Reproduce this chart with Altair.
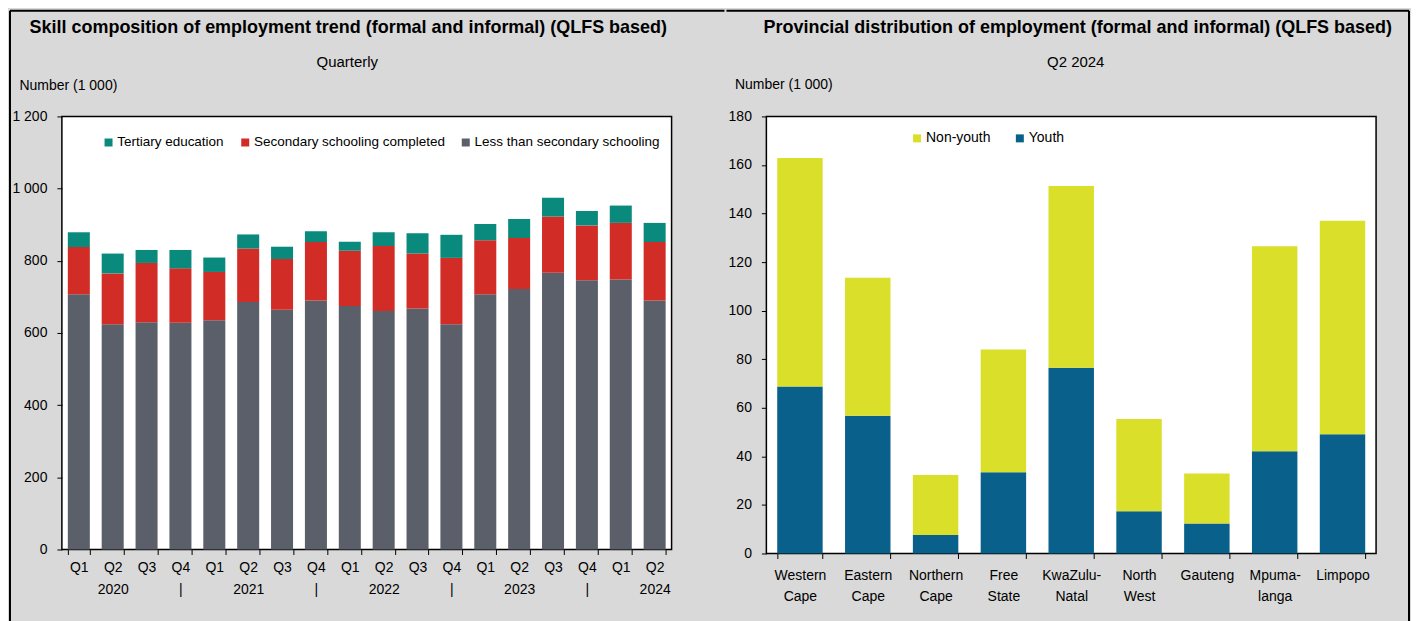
import json
import altair as alt
import pandas as pd

FONT = "Liberation Sans Narrow, Arial Narrow, Liberation Sans, sans-serif"

# ---------------- Left chart data ----------------
quarters = ["2020-Q1", "2020-Q2", "2020-Q3", "2020-Q4",
            "2021-Q1", "2021-Q2", "2021-Q3", "2021-Q4",
            "2022-Q1", "2022-Q2", "2022-Q3", "2022-Q4",
            "2023-Q1", "2023-Q2", "2023-Q3", "2023-Q4",
            "2024-Q1", "2024-Q2"]
less_than_secondary = [707, 624, 630, 628, 635, 686, 664, 690, 675,
                       661, 668, 624, 707, 722, 767, 746, 748, 690]
secondary_completed = [131, 141, 164, 151, 134, 148, 141, 162, 153,
                       180, 152, 184, 150, 141, 156, 152, 157, 162]
tertiary = [41, 55, 36, 51, 40, 39, 34, 30, 25,
            38, 56, 64, 45, 53, 52, 40, 48, 53]

skills = ["Tertiary education", "Secondary schooling completed", "Less than secondary schooling"]
skill_colors = ["#0a8a7d", "#d12c25", "#5a5f69"]

left_title = "Skill composition of employment trend (formal and informal) (QLFS based)"
left_subtitle = "Quarterly"
y_title = "Number (1 000)"

# ---------------- Right chart data ----------------
provinces = ["Western Cape", "Eastern Cape", "Northern Cape", "Free State",
             "KwaZulu-Natal", "North West", "Gauteng", "Mpumalanga", "Limpopo"]
province_lines = [["Western", "Cape"], ["Eastern", "Cape"], ["Northern", "Cape"],
                  ["Free", "State"], ["KwaZulu-", "Natal"], ["North", "West"],
                  ["Gauteng"], ["Mpuma-", "langa"], ["Limpopo"]]
youth = [68.8, 56.7, 7.6, 33.5, 76.5, 17.4, 12.4, 42.1, 49.1]
non_youth = [94.1, 56.9, 24.7, 50.5, 74.8, 38.0, 20.5, 84.4, 87.9]

groups = ["Non-youth", "Youth"]
group_colors = ["#dadf2a", "#08608b"]

right_title = "Provincial distribution of employment (formal and informal) (QLFS based)"
right_subtitle = "Q2 2024"

# ---------------- Build tables ----------------
rows = []
series = [(skills[2], less_than_secondary, 0), (skills[1], secondary_completed, 1), (skills[0], tertiary, 2)]
for name, vals, o in series:
    for q, v in zip(quarters, vals):
        rows.append({"quarter": q, "skill": name, "value": v, "order": o})
df_left = pd.DataFrame(rows)

rows = []
for name, vals, o in [(groups[1], youth, 0), (groups[0], non_youth, 1)]:
    for p, v in zip(provinces, vals):
        rows.append({"province": p, "group": name, "value": v, "order": o})
df_right = pd.DataFrame(rows)

q_label_expr = ("[split(datum.value,'-')[1], split(datum.value,'-')[1]=='Q2' ? split(datum.value,'-')[0] : "
                "(split(datum.value,'-')[1]=='Q4' ? '|' : '')]")
prov_map = json.dumps(dict(zip(provinces, province_lines)))
p_label_expr = prov_map + "[datum.value]"
num_expr = "replace(format(datum.value, ','), ',', ' ')"

one = alt.Data(values=[{"k": 1}])


def rule_v(x, y1, y2):
    return alt.Chart(one).mark_rule(color="black", strokeWidth=2).encode(
        x=alt.value(x), y=alt.value(y1), y2=alt.value(y2))


def rule_h(x1, x2, y):
    return alt.Chart(one).mark_rule(color="black", strokeWidth=2).encode(
        x=alt.value(x1), x2=alt.value(x2), y=alt.value(y))


def text_at(txt, x, y, size, weight="normal"):
    return alt.Chart(alt.Data(values=[{"t": txt}])).mark_text(
        font=FONT, fontSize=size, fontWeight=weight, align="center",
        baseline="middle", color="black").encode(
        x=alt.value(x), y=alt.value(y), text="t:N")


# ---------------- Left chart ----------------
LW, LH = 611, 434
left_bars = alt.Chart(df_left).mark_bar().encode(
    x=alt.X("quarter:N", sort=quarters,
            scale=alt.Scale(paddingInner=0.35, paddingOuter=0.175),
            axis=alt.Axis(title=None, labelExpr=q_label_expr, labelAngle=0,
                          tickBand="extent", tickSize=5, labelPadding=6,
                          labelLineHeight=22, domain=False)),
    y=alt.Y("value:Q", stack="zero",
            scale=alt.Scale(domain=[0, 1200], nice=False),
            axis=alt.Axis(values=[0, 200, 400, 600, 800, 1000, 1200], title=y_title,
                          titleAngle=0, titleX=-43, titleY=-31, titleAlign="left",
                          titleBaseline="middle", labelExpr=num_expr, tickSize=5,
                          labelPadding=10, domain=False, grid=False)),
    color=alt.Color("skill:N", scale=alt.Scale(domain=skills, range=skill_colors),
                    legend=alt.Legend(title=None, orient="none", direction="horizontal",
                                      legendX=40, legendY=19, columnPadding=14,
                                      labelFontSize=13.5, labelLimit=0)),
    order=alt.Order("order:Q", sort="ascending"),
)

left = alt.layer(
    left_bars,
    text_at(left_title, 287, -89, 18, "bold"),
    text_at(left_subtitle, 286, -55, 15),
    rule_v(-52, -106, 506),
    rule_h(-52, 664, -106),
).properties(width=LW, height=LH)

# ---------------- Right chart ----------------
RW, RH = 611, 438
right_bars = alt.Chart(df_right).mark_bar().encode(
    x=alt.X("province:N", sort=provinces,
            scale=alt.Scale(paddingInner=0.33, paddingOuter=0.16),
            axis=alt.Axis(title=None, labelExpr=p_label_expr, labelAngle=0,
                          tickBand="extent", tickSize=5, labelPadding=10,
                          labelLineHeight=21, domain=False)),
    y=alt.Y("value:Q", stack="zero",
            scale=alt.Scale(domain=[0, 180], nice=False),
            axis=alt.Axis(values=list(range(0, 181, 20)), title=y_title,
                          titleAngle=0, titleX=-32, titleY=-32, titleAlign="left",
                          titleBaseline="middle", tickSize=5,
                          labelPadding=10, domain=False, grid=False)),
    color=alt.Color("group:N", scale=alt.Scale(domain=groups, range=group_colors),
                    legend=alt.Legend(title=None, orient="none", direction="horizontal",
                                      legendX=144, legendY=15, columnPadding=22,
                                      labelFontSize=14, labelLimit=0)),
    order=alt.Order("order:Q", sort="ascending"),
)

right = alt.layer(
    right_bars,
    text_at(right_title, 312, -89, 18, "bold"),
    text_at(right_subtitle, 310, -55, 15),
    rule_v(644, -106, 506),
    rule_h(-40, 644, -106),
).properties(width=RW, height=RH)

chart = alt.hconcat(left, right, spacing=-2).resolve_scale(color="independent").properties(
    padding={"left": 0, "top": 0, "right": 0, "bottom": 0}
).configure(background="#d9d9d9").configure_view(
    stroke="black", strokeWidth=1.5, fill="white"
).configure_axis(
    labelFont=FONT, titleFont=FONT, labelFontSize=14, titleFontSize=14,
    labelColor="black", titleColor="black", tickColor="black", titleFontWeight="normal"
).configure_legend(
    labelFont=FONT, labelColor="black", symbolType="square",
    symbolSize=64, symbolStrokeWidth=0, labelOffset=2, padding=0
)

chart.save("out.html", embed_options={"renderer": "svg", "actions": False})
